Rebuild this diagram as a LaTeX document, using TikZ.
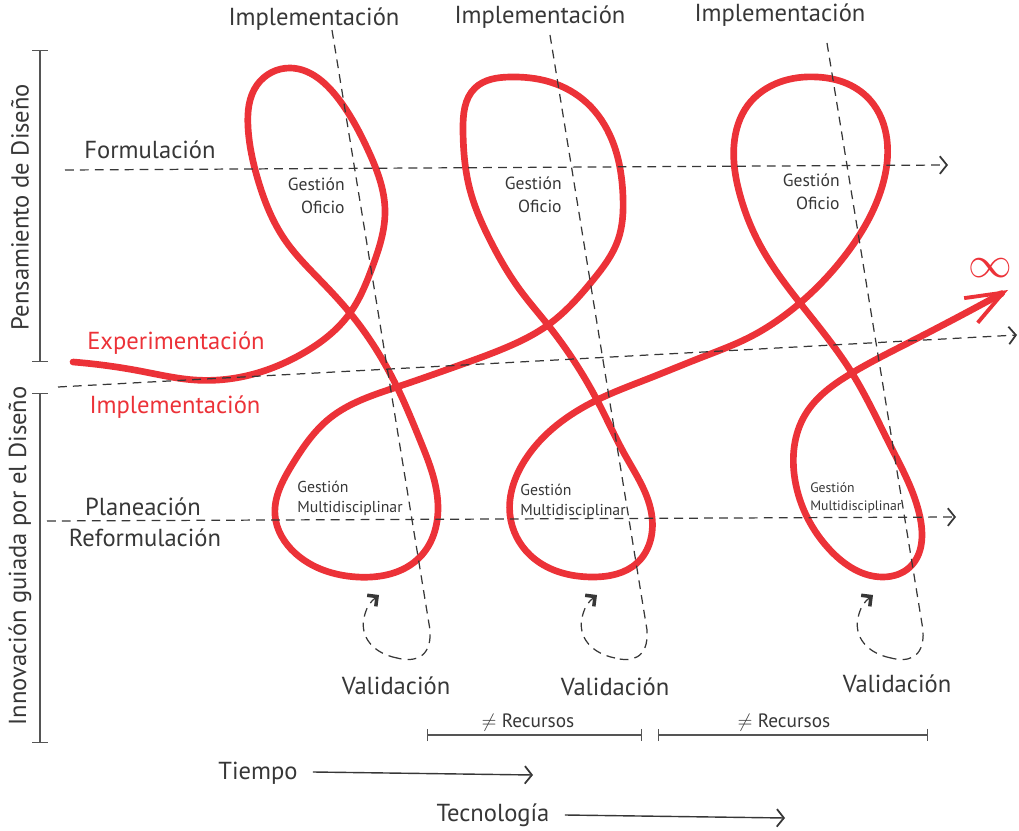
\documentclass[tikz,border=0pt]{standalone}
\usepackage{fontspec}
\setmainfont{PT Sans}
\usepackage{tikz}
\usetikzlibrary{arrows.meta, hobby}
\definecolor{cintared}{RGB}{236,50,56}
\definecolor{trazo}{RGB}{55,55,55}

\tikzset{
	cinta/.style={draw=cintared, line width=3.8pt, line cap=round, line join=round},
	guia/.style={draw=trazo, line width=0.7pt, dash pattern=on 5pt off 3.5pt},
	punta/.style={-{Straight Barb[length=4pt, width=10pt, line width=1pt]}},
	giro/.style={-{Straight Barb[length=4pt, width=8pt, line width=2pt]}},
	llave/.style={draw=trazo!85, line width=0.7pt, {Bar[width=9pt]}-{Bar[width=9pt]}},
	etiqueta/.style={text=trazo, font=\fontsize{14}{15}\selectfont, inner sep=0pt},
	roja/.style={etiqueta, text=cintared},
	oficio/.style={text=trazo, font=\fontsize{10}{13}\selectfont, align=right, inner sep=0pt},
	multi/.style={text=trazo, font=\fontsize{9}{11.4}\selectfont, align=left, inner sep=0pt}
}

\begin{document}
\begin{tikzpicture}[x=0.02cm, y=-0.02cm]
	\useasboundingbox (0,0) rectangle (1019,831);

	% cinta roja
	\draw[cinta, -{Straight Barb[length=21pt, width=16pt, line width=2.2pt]}] (73,362) to[curve through={
		(140,371) .. (195,380) .. (250,375) .. (300,355) .. (350,313)
		.. (372,268) .. (385,210) .. (368,150) .. (337,97) .. (290,68) .. (257,85) .. (248,127) .. (258,180) .. (285,240) .. (320,280) .. (350,313)
		.. (397,387) .. (420,440) .. (438,507) .. (420,557) .. (357,577) .. (295,553) .. (275,515) .. (292,465) .. (330,418) .. (397,387)
		.. (460,365) .. (505,348) .. (548,325)
		.. (593,280) .. (618,240) .. (623,197) .. (612,140) .. (587,103) .. (550,82) .. (510,77) .. (475,88) .. (463,130) .. (470,190) .. (490,240) .. (520,290) .. (548,325)
		.. (597,400) .. (625,455) .. (652,517) .. (637,563) .. (593,577) .. (530,555) .. (510,515) .. (525,460) .. (597,400)
		.. (650,378) .. (700,358) .. (750,337) .. (800,303)
		.. (847,253) .. (882,187) .. (887,140) .. (870,100) .. (843,82) .. (817,77) .. (780,82) .. (748,105) .. (734,145) .. (740,195) .. (760,245) .. (800,303)
		.. (852,373) .. (890,445) .. (920,517) .. (910,567) .. (883,577) .. (830,550) .. (795,480) .. (805,415) .. (852,373)
		.. (910,342)}] (1008,290);
	\node[text=cintared, inner sep=0pt] (infinito) at (990,268) {\fontsize{27}{27}\selectfont$\infty$};

	% guias horizontales
	\coordinate (formIni) at (65,170);
	\coordinate (formFin) at (948,165);
	\coordinate (expIni) at (58,387);
	\coordinate (expFin) at (1017,335);
	\coordinate (planIni) at (47,521);
	\coordinate (planFin) at (956,517);
	\draw[guia, punta] (formIni) -- (formFin);
	\draw[guia, punta] (expIni) -- (expFin);
	\draw[guia, punta] (planIni) -- (planFin);

	% guias de implementacion y validacion
	\coordinate (impA) at (332,30);
	\coordinate (valA) at (430,630);
	\coordinate (impB) at (550,35);
	\coordinate (valB) at (647,630);
	\coordinate (impC) at (827,43);
	\coordinate (valC) at (923,630);
	\draw[guia] (impA) -- (valA) .. controls (432,660) and (412,662) .. (397,658);
	\draw[guia, giro] (397,658) .. controls (372,653) and (360,636) .. (364,618) .. controls (366,608) and (370,602) .. (379,595);
	\draw[guia] (impB) -- (valB) .. controls (649,660) and (630,662) .. (615,658);
	\draw[guia, giro] (615,658) .. controls (590,653) and (578,636) .. (582,618) .. controls (584,608) and (588,602) .. (597,595);
	\draw[guia] (impC) -- (valC) .. controls (925,660) and (906,662) .. (891,658);
	\draw[guia, giro] (891,658) .. controls (866,653) and (854,636) .. (858,618) .. controls (860,608) and (864,602) .. (873,595);

	% etiquetas
	\node[etiqueta] (implA) at (314,19) {Implementación};
	\node[etiqueta] (implB) at (540,17) {Implementación};
	\node[etiqueta] (implC) at (780,15) {Implementación};
	\node[etiqueta] (formulacion) at (150,150) {Formulación};
	\node[roja] (experimentacion) at (176,343) {Experimentación};
	\node[roja] (implementacion) at (175,407) {Implementación};
	\node[etiqueta] (planeacion) at (143,507) {Planeación};
	\node[etiqueta] (reformulacion) at (145,538) {Reformulación};
	\node[etiqueta] (validA) at (396,686) {Validación};
	\node[etiqueta] (validB) at (615,687) {Validación};
	\node[etiqueta] (validC) at (897,684) {Validación};

	\node[oficio, anchor=east] (oficioA) at (345,196) {Gestión\\Oficio};
	\node[oficio, anchor=east] (oficioB) at (562,195) {Gestión\\Oficio};
	\node[oficio, anchor=east] (oficioC) at (840,192) {Gestión\\Oficio};
	\node[multi, anchor=west] (multiA) at (297,498) {Gestión\\Multidisciplinar};
	\node[multi, anchor=west] (multiB) at (520,501) {Gestión\\Multidisciplinar};
	\node[multi, anchor=west, font=\fontsize{7.8}{10}\selectfont] (multiC) at (810,498) {Gestión\\Multidisciplinar};

	% llaves laterales
	\coordinate (pensTop) at (40,50);
	\coordinate (pensBot) at (40,362);
	\coordinate (innoTop) at (40,393);
	\coordinate (innoBot) at (40,743);
	\draw[llave] (pensTop) -- (pensBot);
	\draw[llave] (innoTop) -- (innoBot);
	\node[etiqueta, rotate=90] (pensamiento) at (20,207) {Pensamiento de Diseño};
	\node[etiqueta, rotate=90] (innovacion) at (20,556) {Innovación guiada por el Diseño};

	% recursos
	\coordinate (recAi) at (427,735);
	\coordinate (recAf) at (642,735);
	\coordinate (recBi) at (658,735);
	\coordinate (recBf) at (928,735);
	\draw[llave, {Bar[width=7pt]}-{Bar[width=7pt]}] (recAi) -- (recAf);
	\draw[llave, {Bar[width=7pt]}-{Bar[width=7pt]}] (recBi) -- (recBf);
	\node[etiqueta, font=\fontsize{11}{13}\selectfont] (recursosA) at (528,723) {$\neq$ Recursos};
	\node[etiqueta, font=\fontsize{11}{13}\selectfont] (recursosB) at (784,723) {$\neq$ Recursos};

	% ejes
	\node[etiqueta] (tiempo) at (258,773) {Tiempo};
	\node[etiqueta] (tecnologia) at (493,815) {Tecnología};
	\coordinate (tiempoFin) at (533,775);
	\coordinate (tecnoFin) at (785,818);
	\draw[draw=trazo, line width=0.8pt, punta] (tiempo.east) ++(15,-1) -- (tiempoFin);
	\draw[draw=trazo, line width=0.8pt, punta] (tecnologia.east) ++(15,0) -- (tecnoFin);
\end{tikzpicture}
\end{document}
